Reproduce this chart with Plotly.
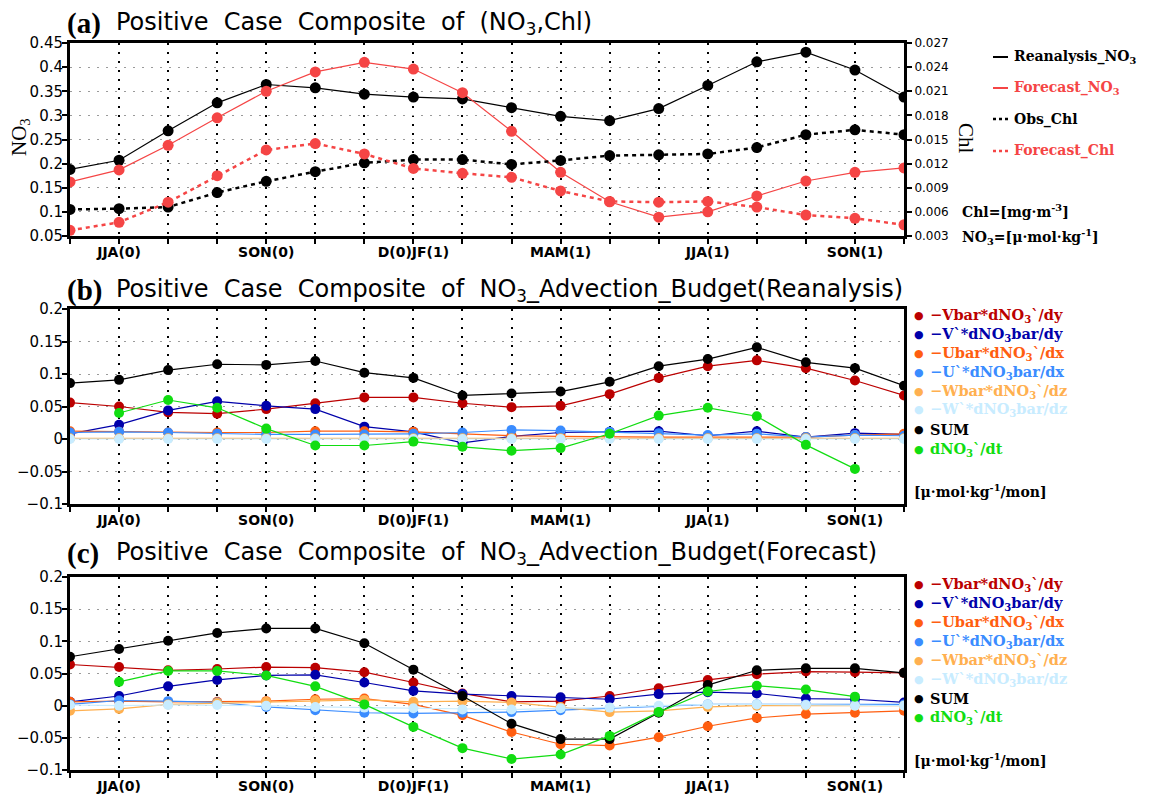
import plotly.graph_objects as go

W, H = 1149, 794

# ---------------- data ----------------
months = list(range(18))
tick_labels = ["", "JJA(0)", "", "", "SON(0)", "", "", "D(0)JF(1)", "", "",
               "MAM(1)", "", "", "JJA(1)", "", "", "SON(1)", ""]

# panel (a)
rean_no3 = [0.188, 0.207, 0.268, 0.326, 0.364, 0.357, 0.344, 0.338, 0.334, 0.316,
            0.298, 0.289, 0.314, 0.362, 0.411, 0.431, 0.394, 0.338]
fcst_no3 = [0.162, 0.187, 0.238, 0.295, 0.350, 0.390, 0.410, 0.396, 0.347, 0.267,
            0.182, 0.121, 0.089, 0.100, 0.133, 0.164, 0.182, 0.191]
obs_chl = [0.0063, 0.0064, 0.0066, 0.0084, 0.0098, 0.0110, 0.0121, 0.0125, 0.0125, 0.0119,
           0.0124, 0.0130, 0.0131, 0.0132, 0.0140, 0.0156, 0.0162, 0.0156]
fcst_chl = [0.0037, 0.0047, 0.0072, 0.0105, 0.0137, 0.0145, 0.0132, 0.0114, 0.0108, 0.0103,
            0.0086, 0.0073, 0.0072, 0.0073, 0.0066, 0.0056, 0.0052, 0.0044]

# panel (b) Reanalysis budget
b_vbar = [0.056, 0.050, 0.041, 0.039, 0.046, 0.055, 0.064, 0.064, 0.055, 0.049,
          0.051, 0.069, 0.094, 0.112, 0.121, 0.109, 0.090, 0.067]
b_vp = [0.008, 0.022, 0.044, 0.058, 0.051, 0.046, 0.019, 0.011, -0.006, 0.004,
        0.010, 0.011, 0.012, 0.005, 0.012, 0.003, 0.009, 0.007]
b_ubar = [0.012, 0.011, 0.010, 0.010, 0.010, 0.012, 0.012, 0.011, 0.008, 0.005,
          0.004, 0.003, 0.003, 0.003, 0.003, 0.003, 0.006, 0.008]
b_up = [0.010, 0.011, 0.010, 0.008, 0.007, 0.007, 0.007, 0.008, 0.010, 0.014,
        0.013, 0.011, 0.009, 0.006, 0.008, 0.003, 0.006, 0.005]
b_wbar = [0.001, 0.001, 0.001, 0.001, 0.001, 0.001, 0.001, 0.001, 0.001, 0.001,
          0.001, 0.001, 0.001, 0.001, 0.001, 0.001, 0.001, 0.001]
b_wp = [0.000, 0.000, 0.000, 0.000, 0.000, 0.000, 0.000, 0.000, 0.000, 0.000,
        0.000, 0.000, 0.000, 0.000, 0.000, 0.000, 0.000, 0.000]
b_sum = [0.086, 0.091, 0.106, 0.115, 0.114, 0.120, 0.102, 0.094, 0.067, 0.070,
         0.073, 0.088, 0.112, 0.123, 0.141, 0.118, 0.109, 0.082]
b_dt = [None, 0.040, 0.060, 0.048, 0.016, -0.010, -0.010, -0.004, -0.012, -0.018,
        -0.014, 0.008, 0.036, 0.048, 0.035, -0.009, -0.046, None]

# panel (c) Forecast budget
c_vbar = [0.064, 0.060, 0.055, 0.057, 0.060, 0.059, 0.052, 0.036, 0.019, 0.006,
          0.007, 0.015, 0.027, 0.040, 0.049, 0.053, 0.052, 0.051]
c_vp = [0.006, 0.015, 0.030, 0.040, 0.047, 0.048, 0.036, 0.023, 0.018, 0.015,
        0.013, 0.010, 0.018, 0.021, 0.019, 0.011, 0.010, 0.005]
c_ubar = [0.006, 0.007, 0.006, 0.006, 0.007, 0.010, 0.011, 0.002, -0.015, -0.041,
          -0.060, -0.062, -0.049, -0.032, -0.019, -0.013, -0.011, -0.008]
c_up = [0.002, 0.008, 0.007, 0.005, -0.002, -0.007, -0.011, -0.012, -0.011, -0.010,
        -0.007, -0.004, -0.002, 0.002, 0.002, 0.002, 0.002, 0.002]
c_wbar = [-0.008, -0.005, 0.002, 0.004, 0.006, 0.008, 0.009, 0.006, 0.007, 0.005,
          -0.002, -0.010, -0.008, -0.002, 0.000, 0.000, 0.000, 0.000]
c_wp = [0.001, 0.000, 0.001, 0.001, 0.000, -0.002, -0.003, -0.004, -0.006, -0.006,
        -0.004, -0.003, 0.000, 0.002, 0.002, 0.001, 0.000, 0.000]
c_sum = [0.076, 0.088, 0.101, 0.113, 0.120, 0.120, 0.097, 0.056, 0.015, -0.028,
         -0.052, -0.052, -0.011, 0.032, 0.055, 0.058, 0.058, 0.051]
c_dt = [None, 0.037, 0.054, 0.054, 0.047, 0.030, 0.002, -0.033, -0.066, -0.083,
        -0.076, -0.047, -0.010, 0.022, 0.031, 0.025, 0.014, None]

budget_names = ["−Vbar*dNO<sub>3</sub>`/dy", "−V`*dNO<sub>3</sub>bar/dy",
                "−Ubar*dNO<sub>3</sub>`/dx", "−U`*dNO<sub>3</sub>bar/dx",
                "−Wbar*dNO<sub>3</sub>`/dz", "−W`*dNO<sub>3</sub>bar/dz",
                "SUM", "dNO<sub>3</sub>`/dt"]
budget_colors = ["#BB0000", "#0000AA", "#FF5E10", "#3A8CFF",
                 "#FFB050", "#C8ECFF", "#000000", "#11DD11"]
b_series = [b_vbar, b_vp, b_ubar, b_up, b_wbar, b_wp, b_sum, b_dt]
c_series = [c_vbar, c_vp, c_ubar, c_up, c_wbar, c_wp, c_sum, c_dt]

RED_A = "#F54545"

# ---------------- helpers ----------------
def px(x):
    return x / W

def py(y):
    return 1 - y / H

fig = go.Figure()

# panel (a)
fig.add_trace(go.Scatter(x=months, y=rean_no3, mode="lines+markers", xaxis="x", yaxis="y",
                         line=dict(color="black", width=1.2),
                         marker=dict(color="black", size=11), showlegend=False))
fig.add_trace(go.Scatter(x=months, y=fcst_no3, mode="lines+markers", xaxis="x", yaxis="y",
                         line=dict(color=RED_A, width=1.2),
                         marker=dict(color=RED_A, size=11), showlegend=False))
fig.add_trace(go.Scatter(x=months, y=obs_chl, mode="lines+markers", xaxis="x", yaxis="y4",
                         line=dict(color="black", width=2.5, dash="4px,4px"),
                         marker=dict(color="black", size=11), showlegend=False))
fig.add_trace(go.Scatter(x=months, y=fcst_chl, mode="lines+markers", xaxis="x", yaxis="y4",
                         line=dict(color=RED_A, width=2.5, dash="4px,4px"),
                         marker=dict(color=RED_A, size=11), showlegend=False))

for series, ya, xa in ((b_series, "y2", "x2"), (c_series, "y3", "x3")):
    for vals, col in zip(series, budget_colors):
        fig.add_trace(go.Scatter(x=months, y=vals, mode="lines+markers", xaxis=xa, yaxis=ya,
                                 line=dict(color=col, width=1.2),
                                 marker=dict(color=col, size=10), showlegend=False))

x0, x1 = px(70), px(904)
doms = {
    "a": [py(236), py(43)],
    "b": [py(504), py(309)],
    "c": [py(770), py(577)],
}

def xaxis_cfg(anchor):
    return dict(domain=[x0, x1], anchor=anchor, range=[0, 17],
                tickmode="array", tickvals=months, ticktext=tick_labels,
                ticks="outside", ticklen=5, tickwidth=2, tickcolor="black",
                ticklabelstandoff=-4,
                showline=True, linewidth=3, linecolor="black", mirror=True,
                showgrid=True, gridcolor="black", gridwidth=1.5, griddash="2px,7px",
                zeroline=False,
                tickfont=dict(family="DejaVu Sans", size=14, color="black", weight="bold"))

def yaxis_cfg(anchor, dom, rng, tick0, dtick):
    return dict(domain=dom, anchor=anchor, range=rng, tick0=tick0, dtick=dtick,
                ticks="outside", ticklen=5, tickwidth=2, tickcolor="black",
                ticklabelstandoff=-4,
                showline=True, linewidth=3, linecolor="black", mirror=True,
                showgrid=True, gridcolor="#9a9a9a", gridwidth=1.2, griddash="2px,7px",
                zeroline=False,
                tickfont=dict(family="DejaVu Sans", size=15, color="black"))

fig.update_layout(
    width=W, height=H, margin=dict(l=0, r=0, t=0, b=0, autoexpand=False),
    paper_bgcolor="white", plot_bgcolor="white", showlegend=False,
    xaxis=xaxis_cfg("y"), xaxis2=xaxis_cfg("y2"), xaxis3=xaxis_cfg("y3"),
    yaxis=yaxis_cfg("x", doms["a"], [0.05, 0.45], 0.05, 0.05),
    yaxis2=yaxis_cfg("x2", doms["b"], [-0.1, 0.2], -0.1, 0.05),
    yaxis3=yaxis_cfg("x3", doms["c"], [-0.1, 0.2], -0.1, 0.05),
    yaxis4=dict(overlaying="y", side="right", anchor="x", range=[0.003, 0.027],
                tick0=0.003, dtick=0.003, ticks="outside", ticklen=5, tickwidth=2,
                tickcolor="black", showline=True, linewidth=3, linecolor="black",
                showgrid=False, zeroline=False, tickformat=".3f",
                tickfont=dict(family="DejaVu Sans", size=12, color="black")),
)
fig.update_layout(yaxis=dict(mirror=False))

ann = []
shapes = []

SP = "\u00a0\u00a0"
# titles
titles = [("(a)", "Positive" + SP + "Case" + SP + "Composite" + SP + "of" + SP + "(NO<sub>3</sub>,Chl)", 24),
          ("(b)", "Positive" + SP + "Case" + SP + "Composite" + SP + "of" + SP + "NO<sub>3</sub>_Advection_Budget(Reanalysis)", 290),
          ("(c)", "Positive" + SP + "Case" + SP + "Composite" + SP + "of" + SP + "NO<sub>3</sub>_Advection_Budget(Forecast)", 553)]
for lab, txt, yc in titles:
    ann.append(dict(x=px(65), y=py(yc), xref="paper", yref="paper", xanchor="left",
                    yanchor="middle", text="<b>" + lab + "</b>", showarrow=False,
                    font=dict(family="Liberation Serif", size=29, color="black")))
    ann.append(dict(x=px(114), y=py(yc), xref="paper", yref="paper", xanchor="left",
                    yanchor="middle", text=txt, showarrow=False,
                    font=dict(family="DejaVu Sans", size=24, color="black")))

# axis titles panel (a)
ann.append(dict(x=px(20), y=py(137), xref="paper", yref="paper", text="NO<sub>3</sub>",
                textangle=-90, showarrow=False, xanchor="center", yanchor="middle",
                font=dict(family="Liberation Serif", size=21, color="black")))
ann.append(dict(x=px(966), y=py(138), xref="paper", yref="paper", text="Chl",
                textangle=90, showarrow=False, xanchor="center", yanchor="middle",
                font=dict(family="Liberation Serif", size=21, color="black")))

# legend panel (a)
leg_a = [("Reanalysis_NO<sub>3</sub>", "black", "solid", 57),
         ("Forecast_NO<sub>3</sub>", RED_A, "solid", 88),
         ("Obs_Chl", "black", "dot", 119),
         ("Forecast_Chl", RED_A, "dot", 151)]
for txt, col, dash, yc in leg_a:
    shapes.append(dict(type="line", xref="paper", yref="paper", x0=px(993), x1=px(1008),
                       y0=py(yc), y1=py(yc),
                       line=dict(color=col, width=2.5 if dash == "dot" else 2,
                                 dash="3px,3px" if dash == "dot" else "solid")))
    ann.append(dict(x=px(1012), y=py(yc), xref="paper", yref="paper", xanchor="left",
                    yanchor="middle", text=txt, showarrow=False,
                    font=dict(family="DejaVu Serif", size=14, color=col, weight="bold")))
ann.append(dict(x=px(960), y=py(211), xref="paper", yref="paper", xanchor="left",
                yanchor="middle", text="Chl=[mg·m<sup>-3</sup>]", showarrow=False,
                font=dict(family="DejaVu Serif", size=14, color="black", weight="bold")))
ann.append(dict(x=px(960), y=py(237), xref="paper", yref="paper", xanchor="left",
                yanchor="middle", text="NO<sub>3</sub>=[μ·mol·kg<sup>-1</sup>]", showarrow=False,
                font=dict(family="DejaVu Serif", size=14, color="black", weight="bold")))

# legends panels (b) and (c)
for ys, yu in (([315, 334, 353, 372, 391, 410, 429, 449], 491),
               ([584, 603, 622, 641, 660, 679, 698, 717], 760)):
    for name, col, yc in zip(budget_names, budget_colors, ys):
        ann.append(dict(x=px(919), y=py(yc), xref="paper", yref="paper", xanchor="center",
                        yanchor="middle", text="●", showarrow=False,
                        font=dict(family="DejaVu Sans", size=11, color=col)))
        ann.append(dict(x=px(928), y=py(yc), xref="paper", yref="paper", xanchor="left",
                        yanchor="middle", text=name, showarrow=False,
                        font=dict(family="DejaVu Serif", size=14.5, color=col, weight="bold")))
    ann.append(dict(x=px(912), y=py(yu), xref="paper", yref="paper", xanchor="left",
                    yanchor="middle", text="[μ·mol·kg<sup>-1</sup>/mon]", showarrow=False,
                    font=dict(family="DejaVu Serif", size=14, color="black", weight="bold")))

fig.update_layout(annotations=ann, shapes=shapes)
fig.write_html("out.html", config={"displayModeBar": False},
               post_script="document.body.style.margin='0px';document.body.style.overflow='hidden';")
